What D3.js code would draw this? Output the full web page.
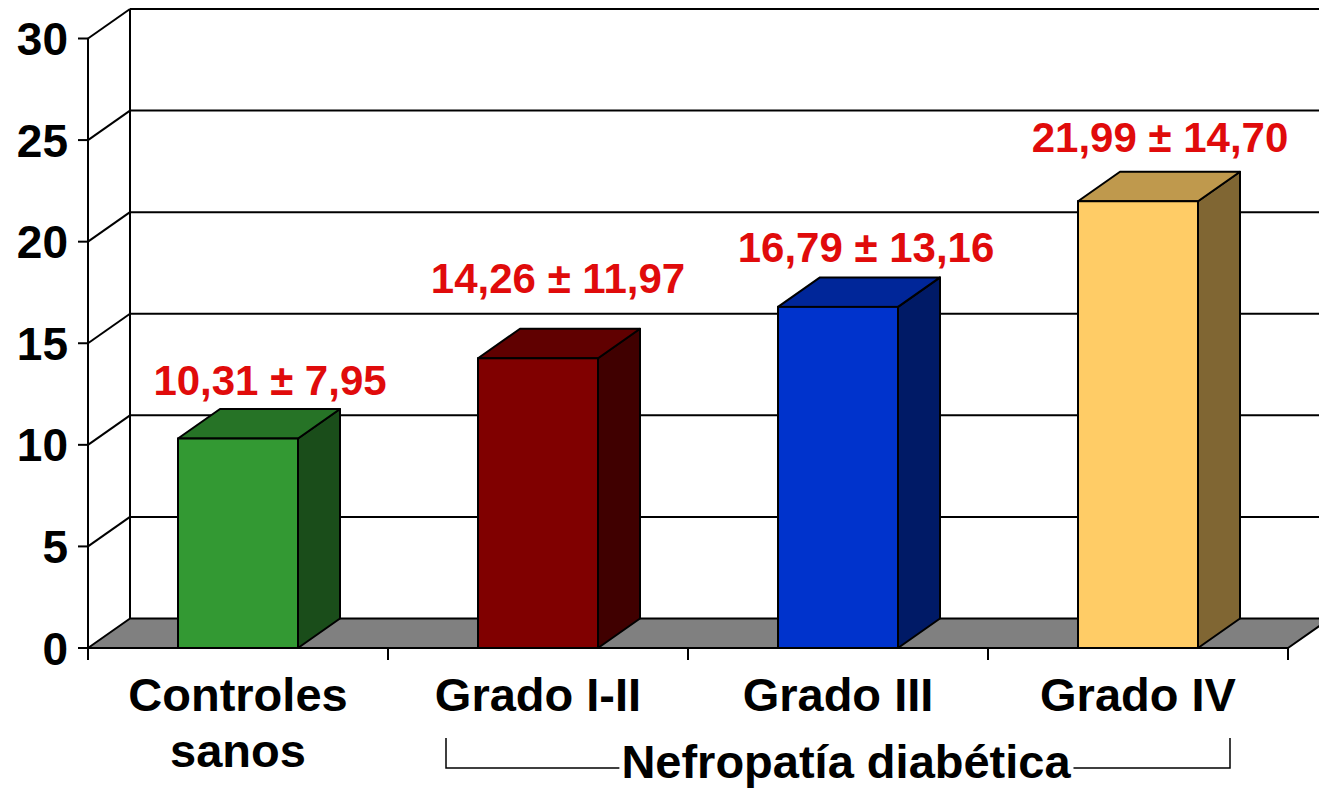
<!DOCTYPE html>
<html>
<head>
<meta charset="utf-8">
<script src="https://cdn.jsdelivr.net/npm/d3@7"></script>
<style>
  html, body { margin: 0; padding: 0; background: #fff; }
  svg { display: block; }
  text { font-family: "Liberation Sans", Arial, Helvetica, sans-serif; font-weight: bold; }
</style>
</head>
<body>
<script>
// ---- data ----
const categories = [["Controles", "sanos"], ["Grado I-II"], ["Grado III"], ["Grado IV"]];
const means = [10.31, 14.26, 16.79, 21.99];
const sds = [7.95, 11.97, 13.16, 14.70];
const yTicks = [0, 5, 10, 15, 20, 25, 30];
const groupLabel = "Nefropatía diabética";

// ---- style / layout ----
const frontColors = ["#339933", "#800000", "#0033cc", "#ffcc66"];
const labelLift = [44, 65, 45, 49];
const labelShift = [32, 20, 28, 22];

const W = 1319, H = 788;
const depthX = 42, depthY = -29.5;

const svg = d3.select("body").append("svg").attr("width", W).attr("height", H);

const y = d3.scaleLinear().domain([0, 30]).range([648, 38.5]);
const x = d3.scaleBand().domain(d3.range(categories.length)).range([88, 1288])
  .paddingInner(0.6).paddingOuter(0.3);
const xEdge = d3.scaleLinear().domain([0, categories.length]).range([88, 1288]);

const darken = (c, k) => { const r = d3.rgb(c); return d3.rgb(r.r * k, r.g * k, r.b * k).formatHex(); };

// back wall gridlines
const backLeft = 88 + depthX, backRight = W + 5;
svg.append("g").selectAll("line").data(yTicks.filter(t => t > 0)).join("line")
  .attr("x1", backLeft).attr("x2", backRight)
  .attr("y1", d => y(d) + depthY).attr("y2", d => y(d) + depthY)
  .attr("stroke", "#000").attr("stroke-width", 2);
// left wall diagonals
svg.append("g").selectAll("line").data(yTicks.filter(t => t > 0)).join("line")
  .attr("x1", 88).attr("y1", d => y(d))
  .attr("x2", backLeft).attr("y2", d => y(d) + depthY)
  .attr("stroke", "#000").attr("stroke-width", 2);
// left wall back vertical
svg.append("line").attr("x1", backLeft).attr("x2", backLeft)
  .attr("y1", y(30) + depthY).attr("y2", y(0) + depthY)
  .attr("stroke", "#000").attr("stroke-width", 2);

// floor
const y0 = y(0);
svg.append("path")
  .attr("d", `M${88},${y0} L${backLeft},${y0 + depthY} L${1288 + depthX + 40},${y0 + depthY} L${1288 + depthX},${y0 + depthY} L${1288},${y0} Z`)
  .attr("fill", "#808080").attr("stroke", "#000").attr("stroke-width", 2).attr("stroke-linejoin", "round");

// bars
const bars = svg.append("g").selectAll("g").data(means).join("g");
bars.each(function (v, i) {
  const g = d3.select(this);
  const x0 = x(i), x1 = x(i) + x.bandwidth();
  const yt = y(v);
  const c = frontColors[i];
  g.append("path")
    .attr("d", `M${x1},${y0} L${x1},${yt} L${x1 + depthX},${yt + depthY} L${x1 + depthX},${y0 + depthY} Z`)
    .attr("fill", darken(c, 0.5)).attr("stroke", "#000").attr("stroke-width", 2).attr("stroke-linejoin", "round");
  g.append("path")
    .attr("d", `M${x0},${yt} L${x0 + depthX},${yt + depthY} L${x1 + depthX},${yt + depthY} L${x1},${yt} Z`)
    .attr("fill", darken(c, 0.75)).attr("stroke", "#000").attr("stroke-width", 2).attr("stroke-linejoin", "round");
  g.append("rect").attr("x", x0).attr("y", yt).attr("width", x1 - x0).attr("height", y0 - yt)
    .attr("fill", c).attr("stroke", "#000").attr("stroke-width", 2);
});

// front value axis
svg.append("line").attr("x1", 88).attr("x2", 88).attr("y1", y(30)).attr("y2", y0)
  .attr("stroke", "#000").attr("stroke-width", 2);
svg.append("g").selectAll("line").data(yTicks).join("line")
  .attr("x1", 78).attr("x2", 88).attr("y1", d => y(d)).attr("y2", d => y(d))
  .attr("stroke", "#000").attr("stroke-width", 2);
svg.append("g").selectAll("text").data(yTicks).join("text")
  .attr("x", 68).attr("y", d => y(d)).attr("dy", "0.36em")
  .attr("text-anchor", "end").attr("font-size", 46).attr("fill", "#000")
  .text(d => d);

// category ticks
svg.append("g").selectAll("line").data(d3.range(categories.length + 1)).join("line")
  .attr("x1", d => xEdge(d)).attr("x2", d => xEdge(d)).attr("y1", y0).attr("y2", y0 + 12)
  .attr("stroke", "#000").attr("stroke-width", 2);

// category labels
categories.forEach((lines, i) => {
  const cx = x(i) + x.bandwidth() / 2;
  const t = svg.append("text").attr("x", cx).attr("y", 711)
    .attr("text-anchor", "middle").attr("font-size", 47).attr("fill", "#000");
  lines.forEach((ln, j) => {
    t.append("tspan").attr("x", cx).attr("dy", j === 0 ? 0 : 56).text(ln);
  });
});

// value labels
const fmt = v => d3.format(".2f")(v).replace(".", ",");
svg.append("g").selectAll("text").data(means).join("text")
  .attr("x", (d, i) => x(i) + x.bandwidth() / 2 + labelShift[i])
  .attr("y", (d, i) => y(d) - labelLift[i])
  .attr("text-anchor", "middle").attr("font-size", 42).attr("fill", "#e00b0b")
  .text((d, i) => `${fmt(d)} ± ${fmt(sds[i])}`);

// group bracket
const bx0 = 446, bx1 = 1230, byTop = 738, byBot = 768;
svg.append("path")
  .attr("d", `M${bx0},${byTop} L${bx0},${byBot} L${bx1},${byBot} L${bx1},${byTop}`)
  .attr("fill", "none").attr("stroke", "#000").attr("stroke-width", 1.5);
const cover = svg.append("rect").attr("fill", "#fff");
const gl = svg.append("text").attr("x", 846).attr("y", 778)
  .attr("text-anchor", "middle").attr("font-size", 47).attr("fill", "#000").text(groupLabel);
const bb = gl.node().getBBox();
cover.attr("x", bb.x - 2).attr("y", byBot - 3).attr("width", bb.width + 4).attr("height", 6);
</script>
</body>
</html>
